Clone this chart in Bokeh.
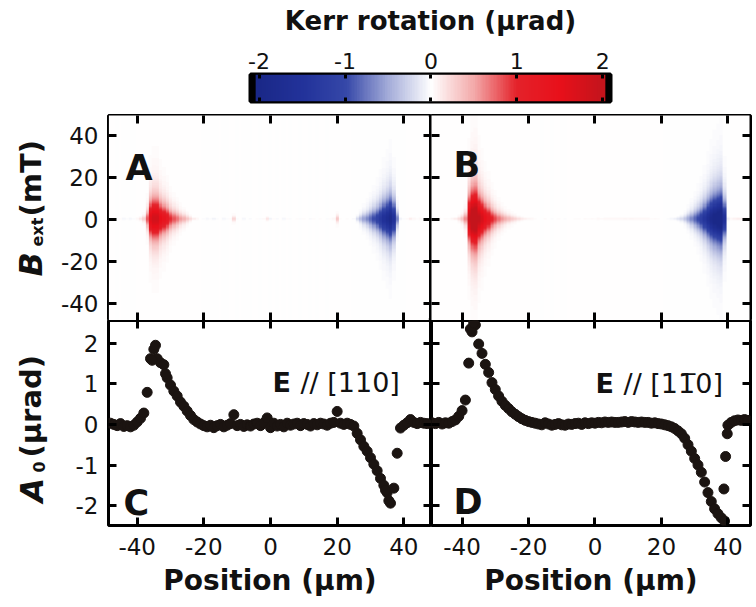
import numpy as np
from bokeh.plotting import figure
from bokeh.layouts import column, row
from bokeh.models import Range1d, LinearAxis, FixedTicker, LinearColorMapper, Label
from bokeh.core.properties import value
from bokeh.embed import file_html
from bokeh.resources import INLINE

# ---------------- data ----------------
# Hanle amplitude A0 (µrad) along the channel, E // [110], 1 µm steps
pos_c = np.arange(-48, 48)
a0_c = [
    0.03, 0.00, -0.03, 0.02, -0.05, -0.03, -0.06, -0.02, 0.06, 0.15,      # -48 .. -39
    0.28, 0.79, 1.62, 1.85, 1.62, 1.52, 1.47, 1.15, 0.97, 0.82,           # -38 .. -29
    0.70, 0.55, 0.45, 0.33, 0.22, 0.12, 0.06, 0.01, -0.03, -0.06,         # -28 .. -19
    -0.02, -0.08, -0.03, 0.00, -0.06, -0.02, 0.02, 0.24, -0.03, 0.00,     # -18 .. -9
    -0.05, -0.01, -0.04, 0.01, 0.03, -0.03, 0.04, 0.16, -0.08, 0.03,      # -8 .. 1
    -0.04, 0.00, -0.06, 0.03, -0.02, 0.01, 0.03, -0.03, 0.02, 0.00,       # 2 .. 11
    -0.04, 0.02, -0.01, 0.03, 0.01, -0.02, 0.03, 0.05, 0.32, 0.03,        # 12 .. 21
    0.00, 0.03, 0.00, -0.04, -0.22, -0.38, -0.54, -0.66, -0.82, -0.98,    # 22 .. 31
    -1.14, -1.33, -1.50, -1.68, -1.94, -1.57, -0.71, -0.09, -0.02, 0.04,  # 32 .. 41
    0.12, 0.05, 0.02, 0.05, 0.03, 0.02,                                   # 42 .. 47
]
pos_c_extra = [-35.5, -34.5, -31.5, 34.5, 35.5]
a0_c_extra = [1.58, 1.95, 1.25, -1.62, -1.88]

# Hanle amplitude A0 (µrad), E // [1-10], 1 µm steps
pos_d = np.arange(-49, 47)
a0_d = [
    0.04, 0.02, 0.05, 0.01, 0.04, 0.03, 0.07, 0.11, 0.20, 0.34,           # -49 .. -40
    0.60, 1.51, 2.28, 2.45, 1.98, 1.75, 1.48, 1.28, 1.03, 0.86,           # -39 .. -30
    0.70, 0.57, 0.47, 0.39, 0.31, 0.25, 0.19, 0.14, 0.10, 0.07,           # -29 .. -20
    0.05, 0.03, 0.01, -0.01, 0.04, 0.01, -0.02, 0.00, 0.02, -0.01,        # -19 .. -10
    -0.02, 0.01, 0.00, 0.02, 0.03, 0.00, 0.04, 0.02, 0.04, 0.03,          # -9 .. 0
    0.05, 0.04, 0.06, 0.05, 0.06, 0.05, 0.05, 0.06, 0.07, 0.05,           # 1 .. 10
    0.07, 0.06, 0.05, 0.06, 0.05, 0.05, 0.03, 0.04, 0.02, 0.01,           # 11 .. 20
    -0.01, -0.03, -0.06, -0.10, -0.16, -0.23, -0.34, -0.50, -0.66, -0.84, # 21 .. 30
    -1.00, -1.18, -1.42, -1.68, -1.90, -2.08, -2.20, -2.30, -2.38, -0.02, # 31 .. 40
    0.05, 0.09, 0.11, 0.10, 0.12, 0.10,                                   # 41 .. 46
]
pos_d_extra = [-37.5, -36.5, 38.8, 39.3, 39.8]
a0_d_extra = [2.35, 2.50, -1.59, -0.79, -0.23]

# field line width at 2 µrad amplitude (mT) and field sampling of the maps
hanle_width_mT = 12.5
b_field = np.arange(-48.0, 50.01, 0.5)

position_ticks = [-40, -20, 0, 20, 40]
field_ticks = [-40, -20, 0, 20, 40]
a0_ticks = [-2, -1, 0, 1, 2]
kerr_ticks = [-2, -1, 0, 1, 2]

# colour scale anchors for Kerr rotation (µrad)
kerr_anchor_vals = [-2.0, -1.5, -1.0, -0.5, 0.0, 0.5, 1.0, 1.5, 2.0]
kerr_anchor_cols = ["#1a2888", "#22329a", "#3547a8", "#a4acd9", "#ffffff",
                    "#f3a9a9", "#e4222a", "#e8101a", "#c4141c"]

FONT = "DejaVu Sans"
INK = "#111111"
DOT = "#1b1411"


def build_palette(n=256):
    rgb = np.array([[int(c[i:i + 2], 16) for i in (1, 3, 5)] for c in kerr_anchor_cols], float)
    t = np.linspace(-2, 2, n)
    chans = [np.interp(t, kerr_anchor_vals, rgb[:, k]) for k in range(3)]
    return ["#%02x%02x%02x" % (int(round(r)), int(round(g)), int(round(b)))
            for r, g, b in zip(*chans)]


mapper = LinearColorMapper(palette=build_palette(), low=-2, high=2)


def kerr_map(pos, a0, pos_x, a0_x):
    """Kerr rotation vs (B, x): each column is a peaked field response of amplitude A0."""
    allp = np.concatenate([np.asarray(pos, float), np.asarray(pos_x, float)])
    alla = np.concatenate([np.asarray(a0, float), np.asarray(a0_x, float)])
    cols = np.asarray(pos, float)
    amp = np.array([alla[np.abs(allp - c) <= 0.5].mean() for c in cols])
    width = np.maximum(hanle_width_mT * np.abs(amp) / 2.0, 0.6)
    img = amp[None, :] / (1.0 + (b_field[:, None] / width[None, :]) ** 2) ** 2
    return cols, img


def style_axis(ax, ticks, show_labels, size="23px"):
    ax.axis_line_color = None
    ax.major_tick_in = 8
    ax.major_tick_out = 0
    ax.major_tick_line_width = 3
    ax.major_tick_line_color = "black"
    ax.minor_tick_line_color = None
    if show_labels:
        ax.major_label_text_font = FONT
        ax.major_label_text_font_size = size
        ax.major_label_text_color = INK
        ax.major_label_overrides = {t: str(t) for t in ticks}
    else:
        ax.major_label_text_font_size = "0px"
        ax.major_label_standoff = 0


def panel(xr, yr, fw, fh, bl, br, bt, bb):
    p = figure(x_range=xr, y_range=yr, frame_width=fw, frame_height=fh,
               min_border_left=bl, min_border_right=br,
               min_border_top=bt, min_border_bottom=bb,
               x_axis_location=None, y_axis_location=None,
               output_backend="svg", toolbar_location=None)
    p.grid.visible = False
    p.outline_line_color = "black"
    p.outline_line_width = 3
    p.outline_line_alpha = 1
    p.background_fill_color = "white"
    p.border_fill_color = "white"
    return p


def add_axes(p, xticks, yticks, left_labels, bottom_labels, xlabel=None):
    for side, ticks, show in (("left", yticks, left_labels), ("right", yticks, False),
                              ("above", xticks, False), ("below", xticks, bottom_labels)):
        ax = LinearAxis(ticker=FixedTicker(ticks=ticks))
        style_axis(ax, ticks, show)
        if show and side == "left":
            ax.major_label_standoff = 10
        if show and side == "below":
            ax.major_label_standoff = 12
            if xlabel:
                ax.axis_label = xlabel
                ax.axis_label_text_font = FONT
                ax.axis_label_text_font_style = "bold"
                ax.axis_label_text_font_size = "28px"
                ax.axis_label_text_color = INK
                ax.axis_label_standoff = 6
        p.add_layout(ax, side)


def label(p, x, y, s, size, style="normal"):
    p.add_layout(Label(x=x, y=y, text=s, text_font=FONT, text_font_size=size,
                       text_font_style=style, text_align="left",
                       text_baseline="alphabetic", text_color=INK))


# ranges
xr_left = Range1d(-48.6, 48.3)
xr_right = Range1d(-49.2, 46.8)
yr_field = Range1d(-48.1, 49.5)
yr_amp = Range1d(-2.49, 2.56)

# ---------------- colour bar ----------------
cb = figure(x_range=Range1d(-2.1, 2.09), y_range=Range1d(0, 1),
            frame_width=360, frame_height=27,
            min_border_left=250, min_border_right=146, min_border_top=74, min_border_bottom=12,
            x_axis_location=None, y_axis_location=None,
            output_backend="svg", toolbar_location=None)
cb.grid.visible = False
cb.background_fill_color = "black"
cb.border_fill_color = "white"
cb.outline_line_color = "black"
cb.outline_line_width = 4
grad = np.linspace(-2.04, 2.03, 400)[None, :]
cb.image(image=[grad], x=-2.04, y=0, dw=4.07, dh=1, color_mapper=mapper)
for side in ("above", "below"):
    ax = LinearAxis(ticker=FixedTicker(ticks=kerr_ticks))
    style_axis(ax, kerr_ticks, side == "above", size="22px")
    ax.major_tick_in = 4
    if side == "above":
        ax.major_label_standoff = 6
        ax.axis_label = "Kerr rotation (µrad)"
        ax.axis_label_text_font = FONT
        ax.axis_label_text_font_style = "bold"
        ax.axis_label_text_font_size = "26px"
        ax.axis_label_text_color = INK
        ax.axis_label_standoff = 14
    cb.add_layout(ax, side)

# ---------------- rotated y-axis titles (strip left of the panels) ----------------
# coordinates of this strip: x = px from the left, y = px from the bottom of the page
lab = figure(x_range=Range1d(0, 54), y_range=Range1d(0, 494),
             frame_width=54, frame_height=494,
             min_border_left=0, min_border_right=0, min_border_top=0, min_border_bottom=0,
             x_axis_location=None, y_axis_location=None,
             output_backend="svg", toolbar_location=None)
lab.grid.visible = False
lab.outline_line_color = None
lab.background_fill_color = "white"
lab.border_fill_color = "white"


def vtext(xs, ys, texts, size, style):
    lab.text(x=xs, y=ys, text=texts, angle=np.pi / 2, text_font=value(FONT),
             text_font_size=size, text_font_style=style, text_color=INK,
             text_align="left", text_baseline="alphabetic")


vtext([30, 31], [331, 105], ["B", "A"], "32px", "bold italic")
vtext([37, 38], [361, 135], ["ext", "0"], "16px", "bold")
vtext([30, 30], [391, 150], ["(mT)", "(µrad)"], "29px", "bold")

# ---------------- panel A ----------------
pa = panel(xr_left, yr_field, 323, 205, 54, 0, 2, 0)
cols, img = kerr_map(pos_c, a0_c, pos_c_extra, a0_c_extra)
pa.image(image=[img], x=cols[0] - 0.5, y=b_field[0] - 0.25,
         dw=len(cols), dh=len(b_field) * 0.5, color_mapper=mapper)
add_axes(pa, position_ticks, field_ticks, True, False)
label(pa, -43.5, 24.3, "A", "35px", "bold")

# ---------------- panel B ----------------
pb = panel(xr_right, yr_field, 319, 205, 0, 6, 2, 0)
cols, img = kerr_map(pos_d, a0_d, pos_d_extra, a0_d_extra)
pb.image(image=[img], x=cols[0] - 0.5, y=b_field[0] - 0.25,
         dw=len(cols), dh=len(b_field) * 0.5, color_mapper=mapper)
add_axes(pb, position_ticks, field_ticks, False, False)
label(pb, -42.6, 25.7, "B", "35px", "bold")

# ---------------- panel C ----------------
pc = panel(xr_left, yr_amp, 323, 205, 54, 0, 0, 82)
pc.scatter(list(pos_c) + pos_c_extra, a0_c + a0_c_extra, size=10, color=DOT)
add_axes(pc, position_ticks, a0_ticks, True, True, "Position (µm)")
label(pc, -44.1, -1.93, "C", "35px", "bold")
label(pc, 0.6, 1.04, "E", "27px", "bold")
label(pc, 9.0, 1.04, "// [110]", "27px")

# ---------------- panel D ----------------
pd_ = panel(xr_right, yr_amp, 319, 205, 0, 6, 0, 82)
pd_.scatter(list(pos_d) + pos_d_extra, a0_d + a0_d_extra, size=10, color=DOT)
add_axes(pd_, position_ticks, a0_ticks, False, True, "Position (µm)")
label(pd_, -42.6, -1.92, "D", "35px", "bold")
label(pd_, 0.15, 1.02, "E", "27px", "bold")
label(pd_, 8.6, 1.02, "// [11\u03050]", "27px")

layout = column(cb, row(lab, column(row(pa, pb), row(pc, pd_))))
open("out.html", "w").write(file_html(layout, INLINE))
